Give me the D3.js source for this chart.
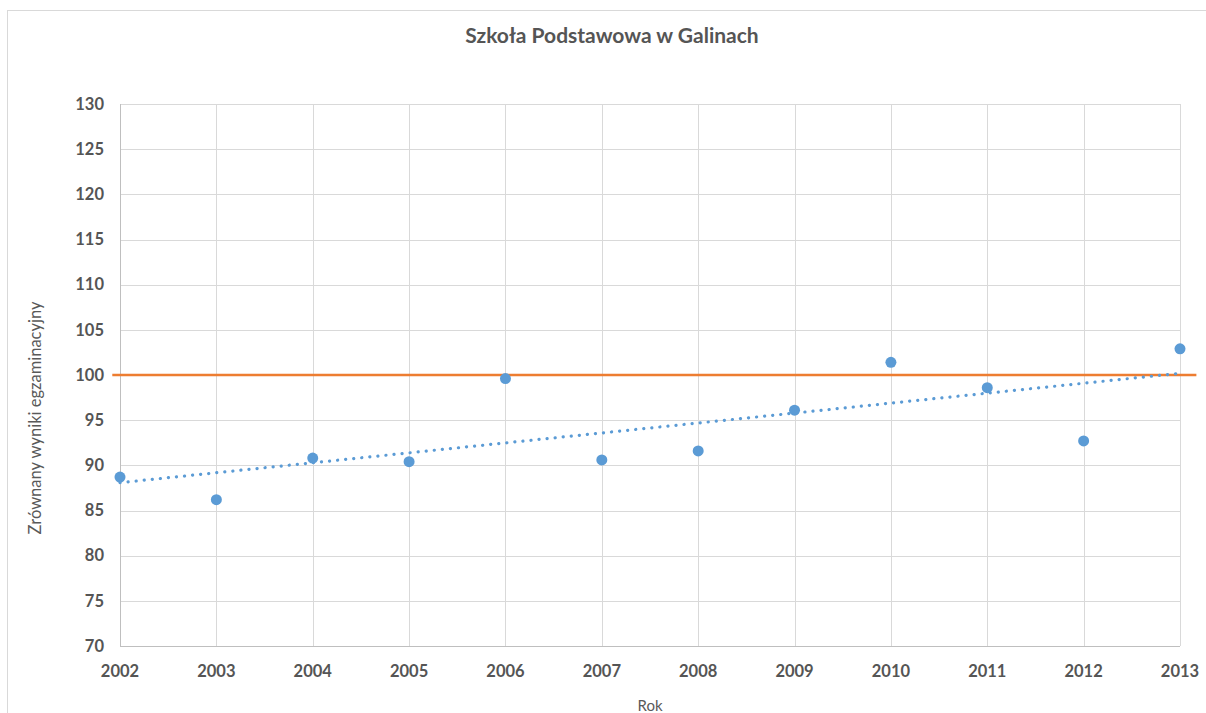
<!DOCTYPE html>
<html><head><meta charset="utf-8">
<script src="https://cdn.jsdelivr.net/npm/d3@7"></script>
<style>body{margin:0;background:#fff}svg{display:block}</style>
</head><body>
<script>
const years = [2002,2003,2004,2005,2006,2007,2008,2009,2010,2011,2012,2013];
const scores = [88.7,86.2,90.8,90.4,99.6,90.6,91.6,96.1,101.4,98.6,92.7,102.9];
const refValue = 100;
const refRange = [2001.92, 2013.17];
const yTicks = [70,75,80,85,90,95,100,105,110,115,120,125,130];
const title = "Szkoła Podstawowa w Galinach";
const xTitle = "Rok";
const yTitle = "Zrównany wyniki egzaminacyjny";

const W = 1206, H = 713;
const m = {left:120, right:1180, top:104, bottom:646};
const svg = d3.select("body").append("svg").attr("width",W).attr("height",H);
const font = "Lato, 'Open Sans', sans-serif";

svg.append("rect").attr("x",7.5).attr("y",10.5).attr("width",1210).attr("height",720)
  .attr("fill","#fff").attr("stroke","#d9d9d9");

const x = d3.scaleLinear().domain([2002,2013]).range([m.left,m.right]);
const y = d3.scaleLinear().domain([70,130]).range([m.bottom,m.top]);

// grid
svg.append("g").selectAll("line").data(yTicks).join("line")
  .attr("x1",m.left).attr("x2",m.right).attr("y1",d=>Math.round(y(d))+0.5).attr("y2",d=>Math.round(y(d))+0.5)
  .attr("stroke",d=>d===70?"#bfbfbf":"#d9d9d9");
svg.append("g").selectAll("line").data(years).join("line")
  .attr("x1",d=>Math.round(x(d))+0.5).attr("x2",d=>Math.round(x(d))+0.5).attr("y1",m.top).attr("y2",m.bottom)
  .attr("stroke",d=>d===2002?"#bfbfbf":"#d9d9d9");

// tick labels
svg.append("g").selectAll("text").data(yTicks).join("text")
  .attr("x",104).attr("y",d=>y(d)).attr("dy","0.35em").attr("text-anchor","end")
  .attr("font-family",font).attr("font-weight","bold").attr("font-size",16.5).attr("fill","#555").text(d=>d);
svg.append("g").selectAll("text").data(years).join("text")
  .attr("x",d=>x(d)).attr("y",677).attr("text-anchor","middle")
  .attr("font-family",font).attr("font-weight","bold").attr("font-size",16.5).attr("fill","#555").text(d=>d);

// titles
svg.append("text").attr("x",612).attr("y",43).attr("text-anchor","middle")
  .attr("font-family",font).attr("font-weight","bold").attr("font-size",21).attr("fill","#555").text(title);
svg.append("text").attr("x",650).attr("y",711).attr("text-anchor","middle")
  .attr("font-family",font).attr("font-size",15).attr("fill","#595959").text(xTitle);
svg.append("text").attr("transform","translate(41,418) rotate(-90)").attr("text-anchor","middle")
  .attr("font-family",font).attr("font-size",16.5).attr("fill","#595959").text(yTitle);

// reference line
svg.append("line").attr("x1",x(refRange[0])).attr("x2",x(refRange[1]))
  .attr("y1",y(refValue)).attr("y2",y(refValue)).attr("stroke","#ed7d31").attr("stroke-width",2.5);

// linear trend (least squares)
const mx = d3.mean(years), my = d3.mean(scores);
const sxy = d3.sum(years,(d,i)=>(d-mx)*(scores[i]-my));
const sxx = d3.sum(years,d=>(d-mx)*(d-mx));
const slope = sxy/sxx, icpt = my - slope*mx;
svg.append("line").attr("x1",x(2002)).attr("x2",x(2013))
  .attr("y1",y(icpt+slope*2002)).attr("y2",y(icpt+slope*2013))
  .attr("stroke","#5b9bd5").attr("stroke-width",3.2).attr("stroke-linecap","round")
  .attr("stroke-dasharray","0.1 8");

// points
svg.append("g").selectAll("circle").data(years).join("circle")
  .attr("cx",d=>x(d)).attr("cy",(d,i)=>y(scores[i])).attr("r",5.5).attr("fill","#5b9bd5");
</script>
</body></html>
